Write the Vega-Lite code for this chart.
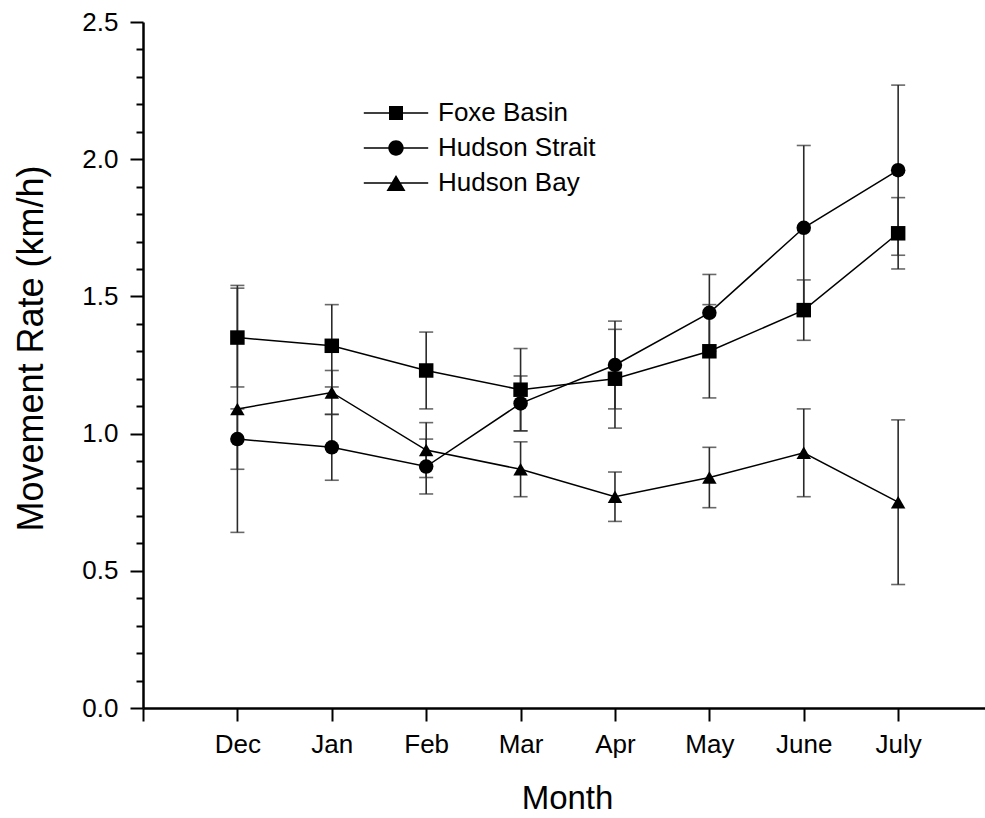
{
  "$schema": "https://vega.github.io/schema/vega-lite/v6.json",
  "width": 842,
  "height": 686,
  "autosize": {"type": "none"},
  "padding": {"left": 143, "top": 22, "right": 0, "bottom": 110},
  "background": "white",
  "config": {"view": {"stroke": null}, "font": "Liberation Sans"},
  "data": {"values": [
    {"month": 1, "site": "Foxe Basin", "rate": 1.35, "lo": 1.17, "hi": 1.53},
    {"month": 2, "site": "Foxe Basin", "rate": 1.32, "lo": 1.17, "hi": 1.47},
    {"month": 3, "site": "Foxe Basin", "rate": 1.23, "lo": 1.09, "hi": 1.37},
    {"month": 4, "site": "Foxe Basin", "rate": 1.16, "lo": 1.01, "hi": 1.31},
    {"month": 5, "site": "Foxe Basin", "rate": 1.20, "lo": 1.02, "hi": 1.38},
    {"month": 6, "site": "Foxe Basin", "rate": 1.30, "lo": 1.13, "hi": 1.47},
    {"month": 7, "site": "Foxe Basin", "rate": 1.45, "lo": 1.34, "hi": 1.56},
    {"month": 8, "site": "Foxe Basin", "rate": 1.73, "lo": 1.60, "hi": 1.86},
    {"month": 1, "site": "Hudson Strait", "rate": 0.98, "lo": 0.87, "hi": 1.09},
    {"month": 2, "site": "Hudson Strait", "rate": 0.95, "lo": 0.83, "hi": 1.07},
    {"month": 3, "site": "Hudson Strait", "rate": 0.88, "lo": 0.78, "hi": 0.98},
    {"month": 4, "site": "Hudson Strait", "rate": 1.11, "lo": 1.01, "hi": 1.21},
    {"month": 5, "site": "Hudson Strait", "rate": 1.25, "lo": 1.09, "hi": 1.41},
    {"month": 6, "site": "Hudson Strait", "rate": 1.44, "lo": 1.30, "hi": 1.58},
    {"month": 7, "site": "Hudson Strait", "rate": 1.75, "lo": 1.45, "hi": 2.05},
    {"month": 8, "site": "Hudson Strait", "rate": 1.96, "lo": 1.65, "hi": 2.27},
    {"month": 1, "site": "Hudson Bay", "rate": 1.09, "lo": 0.64, "hi": 1.54},
    {"month": 2, "site": "Hudson Bay", "rate": 1.15, "lo": 1.07, "hi": 1.23},
    {"month": 3, "site": "Hudson Bay", "rate": 0.94, "lo": 0.84, "hi": 1.04},
    {"month": 4, "site": "Hudson Bay", "rate": 0.87, "lo": 0.77, "hi": 0.97},
    {"month": 5, "site": "Hudson Bay", "rate": 0.77, "lo": 0.68, "hi": 0.86},
    {"month": 6, "site": "Hudson Bay", "rate": 0.84, "lo": 0.73, "hi": 0.95},
    {"month": 7, "site": "Hudson Bay", "rate": 0.93, "lo": 0.77, "hi": 1.09},
    {"month": 8, "site": "Hudson Bay", "rate": 0.75, "lo": 0.45, "hi": 1.05}
  ]},
  "encoding": {
    "x": {
      "field": "month", "type": "quantitative",
      "scale": {"domain": [0, 8.92], "nice": false, "zero": false},
      "axis": {
        "values": [0, 1, 2, 3, 4, 5, 6, 7, 8],
        "labelExpr": "['','Dec','Jan','Feb','Mar','Apr','May','June','July'][datum.value]",
        "title": "Month", "grid": false,
        "domainColor": "black", "domainWidth": 2.5,
        "tickColor": "black", "tickWidth": 2, "tickSize": 13,
        "labelFontSize": 26, "labelColor": "black", "labelPadding": 31,
        "labelBaseline": "alphabetic", "labelOverlap": false, "labelFlush": false,
        "titleFontSize": 33, "titleFontWeight": "normal", "titleColor": "black",
        "titleBaseline": "alphabetic", "titleY": 100, "titleX": 424
      }
    }
  },
  "layer": [
    {
      "mark": {"type": "rule", "color": "#2a2a2a", "strokeWidth": 1.6},
      "encoding": {
        "y": {
          "field": "lo", "type": "quantitative",
          "scale": {"domain": [0, 2.5], "nice": false, "zero": false},
          "axis": {
            "values": [0, 0.1, 0.2, 0.3, 0.4, 0.5, 0.6, 0.7, 0.8, 0.9, 1.0, 1.1, 1.2, 1.3, 1.4, 1.5, 1.6, 1.7, 1.8, 1.9, 2.0, 2.1, 2.2, 2.3, 2.4, 2.5],
            "labelExpr": "abs(datum.value*2-round(datum.value*2))<0.001 ? format(datum.value,'.1f') : ''",
            "tickSize": {"condition": {"test": "abs(datum.value*2-round(datum.value*2))<0.001", "value": 13}, "value": 7},
            "title": "Movement Rate (km/h)", "grid": false,
            "domainColor": "black", "domainWidth": 2.5,
            "tickColor": "black", "tickWidth": 2,
            "labelFontSize": 26, "labelColor": "black", "labelPadding": 12,
            "labelOverlap": false, "labelFlush": false,
            "titleFontSize": 36, "titleFontWeight": "normal", "titleColor": "black",
            "titleX": -101, "titleY": 326, "titleBaseline": "alphabetic"
          }
        },
        "y2": {"field": "hi"}
      }
    },
    {
      "mark": {"type": "tick", "orient": "horizontal", "color": "#2a2a2a", "size": 14, "thickness": 1.6},
      "encoding": {"y": {"field": "lo", "type": "quantitative",
          "axis": {
            "values": [0, 0.1, 0.2, 0.3, 0.4, 0.5, 0.6, 0.7, 0.8, 0.9, 1.0, 1.1, 1.2, 1.3, 1.4, 1.5, 1.6, 1.7, 1.8, 1.9, 2.0, 2.1, 2.2, 2.3, 2.4, 2.5],
            "labelExpr": "abs(datum.value*2-round(datum.value*2))<0.001 ? format(datum.value,'.1f') : ''",
            "tickSize": {"condition": {"test": "abs(datum.value*2-round(datum.value*2))<0.001", "value": 13}, "value": 7},
            "title": "Movement Rate (km/h)", "grid": false,
            "domainColor": "black", "domainWidth": 2.5,
            "tickColor": "black", "tickWidth": 2,
            "labelFontSize": 26, "labelColor": "black", "labelPadding": 12,
            "labelOverlap": false, "labelFlush": false,
            "titleFontSize": 36, "titleFontWeight": "normal", "titleColor": "black",
            "titleX": -101, "titleY": 326, "titleBaseline": "alphabetic"
          }}}
    },
    {
      "mark": {"type": "tick", "orient": "horizontal", "color": "#2a2a2a", "size": 14, "thickness": 1.6},
      "encoding": {"y": {"field": "hi", "type": "quantitative",
          "axis": {
            "values": [0, 0.1, 0.2, 0.3, 0.4, 0.5, 0.6, 0.7, 0.8, 0.9, 1.0, 1.1, 1.2, 1.3, 1.4, 1.5, 1.6, 1.7, 1.8, 1.9, 2.0, 2.1, 2.2, 2.3, 2.4, 2.5],
            "labelExpr": "abs(datum.value*2-round(datum.value*2))<0.001 ? format(datum.value,'.1f') : ''",
            "tickSize": {"condition": {"test": "abs(datum.value*2-round(datum.value*2))<0.001", "value": 13}, "value": 7},
            "title": "Movement Rate (km/h)", "grid": false,
            "domainColor": "black", "domainWidth": 2.5,
            "tickColor": "black", "tickWidth": 2,
            "labelFontSize": 26, "labelColor": "black", "labelPadding": 12,
            "labelOverlap": false, "labelFlush": false,
            "titleFontSize": 36, "titleFontWeight": "normal", "titleColor": "black",
            "titleX": -101, "titleY": 326, "titleBaseline": "alphabetic"
          }}}
    },
    {
      "mark": {"type": "line", "color": "black", "strokeWidth": 1.5},
      "encoding": {
        "y": {"field": "rate", "type": "quantitative",
          "axis": {
            "values": [0, 0.1, 0.2, 0.3, 0.4, 0.5, 0.6, 0.7, 0.8, 0.9, 1.0, 1.1, 1.2, 1.3, 1.4, 1.5, 1.6, 1.7, 1.8, 1.9, 2.0, 2.1, 2.2, 2.3, 2.4, 2.5],
            "labelExpr": "abs(datum.value*2-round(datum.value*2))<0.001 ? format(datum.value,'.1f') : ''",
            "tickSize": {"condition": {"test": "abs(datum.value*2-round(datum.value*2))<0.001", "value": 13}, "value": 7},
            "title": "Movement Rate (km/h)", "grid": false,
            "domainColor": "black", "domainWidth": 2.5,
            "tickColor": "black", "tickWidth": 2,
            "labelFontSize": 26, "labelColor": "black", "labelPadding": 12,
            "labelOverlap": false, "labelFlush": false,
            "titleFontSize": 36, "titleFontWeight": "normal", "titleColor": "black",
            "titleX": -101, "titleY": 326, "titleBaseline": "alphabetic"
          }},
        "detail": {"field": "site"}
      }
    },
    {
      "mark": {"type": "point", "filled": true, "color": "black", "opacity": 1},
      "encoding": {
        "y": {"field": "rate", "type": "quantitative",
          "axis": {
            "values": [0, 0.1, 0.2, 0.3, 0.4, 0.5, 0.6, 0.7, 0.8, 0.9, 1.0, 1.1, 1.2, 1.3, 1.4, 1.5, 1.6, 1.7, 1.8, 1.9, 2.0, 2.1, 2.2, 2.3, 2.4, 2.5],
            "labelExpr": "abs(datum.value*2-round(datum.value*2))<0.001 ? format(datum.value,'.1f') : ''",
            "tickSize": {"condition": {"test": "abs(datum.value*2-round(datum.value*2))<0.001", "value": 13}, "value": 7},
            "title": "Movement Rate (km/h)", "grid": false,
            "domainColor": "black", "domainWidth": 2.5,
            "tickColor": "black", "tickWidth": 2,
            "labelFontSize": 26, "labelColor": "black", "labelPadding": 12,
            "labelOverlap": false, "labelFlush": false,
            "titleFontSize": 36, "titleFontWeight": "normal", "titleColor": "black",
            "titleX": -101, "titleY": 326, "titleBaseline": "alphabetic"
          }},
        "shape": {"field": "site", "type": "nominal",
          "scale": {"domain": ["Foxe Basin", "Hudson Strait", "Hudson Bay"], "range": ["square", "circle", "triangle-up"]},
          "legend": null},
        "size": {"field": "site", "type": "ordinal",
          "scale": {"domain": ["Foxe Basin", "Hudson Strait", "Hudson Bay"], "range": [210, 210, 370]},
          "legend": null}
      }
    },
    {
      "transform": [{"filter": "false"}],
      "mark": {"type": "point", "filled": true, "color": "black", "opacity": 1},
      "encoding": {
        "shape": {"field": "site", "type": "nominal",
          "scale": {"domain": ["Foxe Basin", "Hudson Strait", "Hudson Bay"],
            "range": ["M-4.6,-0.11H4.6V0.11H-4.6ZM-1,-1H1V1H-1Z", "M-4.6,-0.11H4.6V0.11H-4.6ZM1.1,0A1.1,1.1,0,1,1,-1.1,0A1.1,1.1,0,1,1,1.1,0Z", "M-4.6,-0.11H4.6V0.11H-4.6ZM0,-1.15L1.36,1.15L-1.36,1.15Z"]},
          "legend": {
            "orient": "none", "legendX": 240, "legendY": 78, "title": null,
            "labelFontSize": 26, "labelColor": "black", "labelFont": "Liberation Sans",
            "symbolSize": 196, "symbolFillColor": "black", "symbolStrokeColor": "black",
            "symbolStrokeWidth": 0, "symbolOpacity": 1, "rowPadding": 9, "labelOffset": 29
          }
        }
      }
    }
  ],
  "resolve": {"scale": {"shape": "independent"}}
}
